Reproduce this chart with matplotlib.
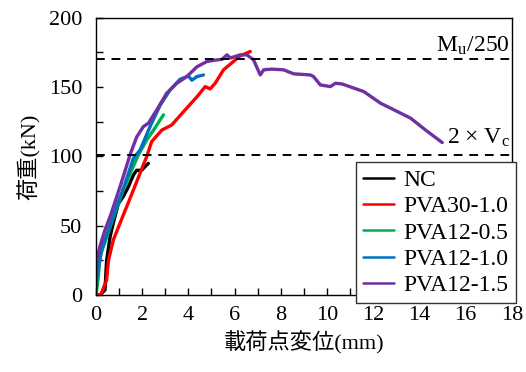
import matplotlib
matplotlib.use("Agg")
import matplotlib.pyplot as plt

plt.rcParams['font.family'] = ['Liberation Serif', 'Noto Sans CJK JP']
plt.rcParams['mathtext.fontset'] = 'stix'

nc_x = [0.0, 0.17, 0.39, 0.42, 0.46, 0.61, 0.75, 0.97, 1.18, 1.4, 1.62, 1.76, 1.98, 2.12, 2.27]
nc_y = [0.0, 0.0, 3.6, 13, 25, 42, 52, 66, 71, 78, 86.6, 90, 90, 92.6, 95]

pva30_x = [0.0, 0.2, 0.46, 0.54, 0.75, 1.04, 1.33, 1.62, 1.91, 2.05, 2.2, 2.41, 2.85, 3.28, 3.79, 4.37, 4.73, 4.94,
           5.16, 5.52, 5.95, 6.24, 6.68]
pva30_y = [0.0, 0.0, 10.8, 25, 39.7, 51.8, 63.8, 75.8, 88, 94, 100, 110.7, 119, 122.7, 132.3, 143, 150.4, 148.7,
           152.8, 162.5, 168.5, 172.6, 175.7]

pva12_05_x = [0.0, 0.1, 0.17, 0.46, 0.82, 1.18, 1.54, 1.83, 2.2, 2.49, 2.92]
pva12_05_y = [0.0, 13, 27.7, 42, 59, 75.8, 90, 101, 112, 119, 130]

pva12_10_x = [0.0, 0.03, 0.25, 0.54, 0.9, 1.26, 1.62, 1.91, 2.34, 2.78, 3.21, 3.64, 4.0, 4.15, 4.37, 4.65]
pva12_10_y = [0.0, 13, 32.5, 47, 63.8, 80.6, 98.7, 104.7, 121.5, 137, 148, 155.7, 158, 155, 157.6, 158.8]

pva12_15_x = [0.0, 0.03, 0.17, 0.39, 0.61, 0.9, 1.18, 1.47, 1.76, 2.05, 2.27, 2.63, 3.06, 3.5, 3.93, 4.37, 4.8,
              5.24, 5.45, 5.67, 5.81, 6.24, 6.53, 6.82, 7.11, 7.26, 7.6, 8.12, 8.56, 9.28, 9.42, 9.71, 10.15,
              10.36, 10.65, 11.59, 12.32, 12.9, 13.62, 14.27, 14.99]
pva12_15_y = [0.0, 25, 35, 47, 56.5, 71, 85.4, 101, 114, 121.5, 124, 133.6, 145.6, 152.8, 157.6, 164.7, 168.5,
              169.7, 170, 173.3, 171, 173.3, 173.3, 169.7, 158.8, 162.5, 163, 162.5, 159.6, 158.8, 157.6, 151.6, 150.4,
              152.8, 152.3, 146.8, 138.4, 133.6, 127.6, 119, 110]

series = [
    ("NC", nc_x, nc_y, "#000000"),
    ("PVA30-1.0", pva30_x, pva30_y, "#FF0000"),
    ("PVA12-0.5", pva12_05_x, pva12_05_y, "#00B050"),
    ("PVA12-1.0", pva12_10_x, pva12_10_y, "#0070C0"),
    ("PVA12-1.5", pva12_15_x, pva12_15_y, "#7030A0"),
]

mu_line = 170
vc_line = 101

fig = plt.figure(figsize=(5.26, 3.72), dpi=100)
ax = fig.add_axes([0.1825, 0.207, 0.7905, 0.745])

for name, xs, ys, c in series:
    ax.plot(xs, ys, color=c, lw=2.4, label=name, solid_capstyle='round', solid_joinstyle='round')

ax.axhline(mu_line, color='black', lw=1.4, ls=(0, (4.5, 3.5)))
ax.axhline(vc_line, color='black', lw=1.4, ls=(0, (4.5, 3.5)))

ax.text(0.995, (mu_line + 1.5) / 200, r'M$_{\mathregular{u}}$/250', transform=ax.transAxes,
        ha='right', va='bottom', fontsize=17)
ax.text(0.995, (vc_line + 4) / 200, '2 × V$_{\\mathregular{c}}$', transform=ax.transAxes,
        ha='right', va='bottom', fontsize=17)

ax.set_xlim(0, 18)
ax.set_ylim(0, 200)
ax.set_xticks(range(0, 19, 2))
ax.set_xticks(range(0, 19, 1), minor=True)
ax.set_yticks(range(0, 201, 50))
ax.set_yticks(range(0, 201, 25), minor=True)
ax.tick_params(which='both', direction='in', top=False, right=False, labelsize=16, width=1)
ax.tick_params(which='major', length=5)
ax.tick_params(which='minor', length=5)
ax.tick_params(axis='x', pad=8)
ax.tick_params(axis='y', pad=10)
for s in ax.spines.values():
    s.set_linewidth(1.0)

ax.set_xlabel('載荷点変位(mm)', fontsize=16, labelpad=4)
ax.set_ylabel('荷重(kN)', fontsize=16, labelpad=6)

leg = fig.legend(loc='lower left', bbox_to_anchor=(0.677, 0.185, 0.304, 0.38), mode='expand',
                 borderaxespad=0, fontsize=17, handlelength=1.3, handletextpad=0.4, borderpad=0.3,
                 labelspacing=0.2, fancybox=False, framealpha=1, edgecolor='#333333')
for line in leg.get_lines():
    line.set_linewidth(1.8)
leg.get_frame().set_linewidth(1.0)

fig.savefig('out.png', dpi=100)
